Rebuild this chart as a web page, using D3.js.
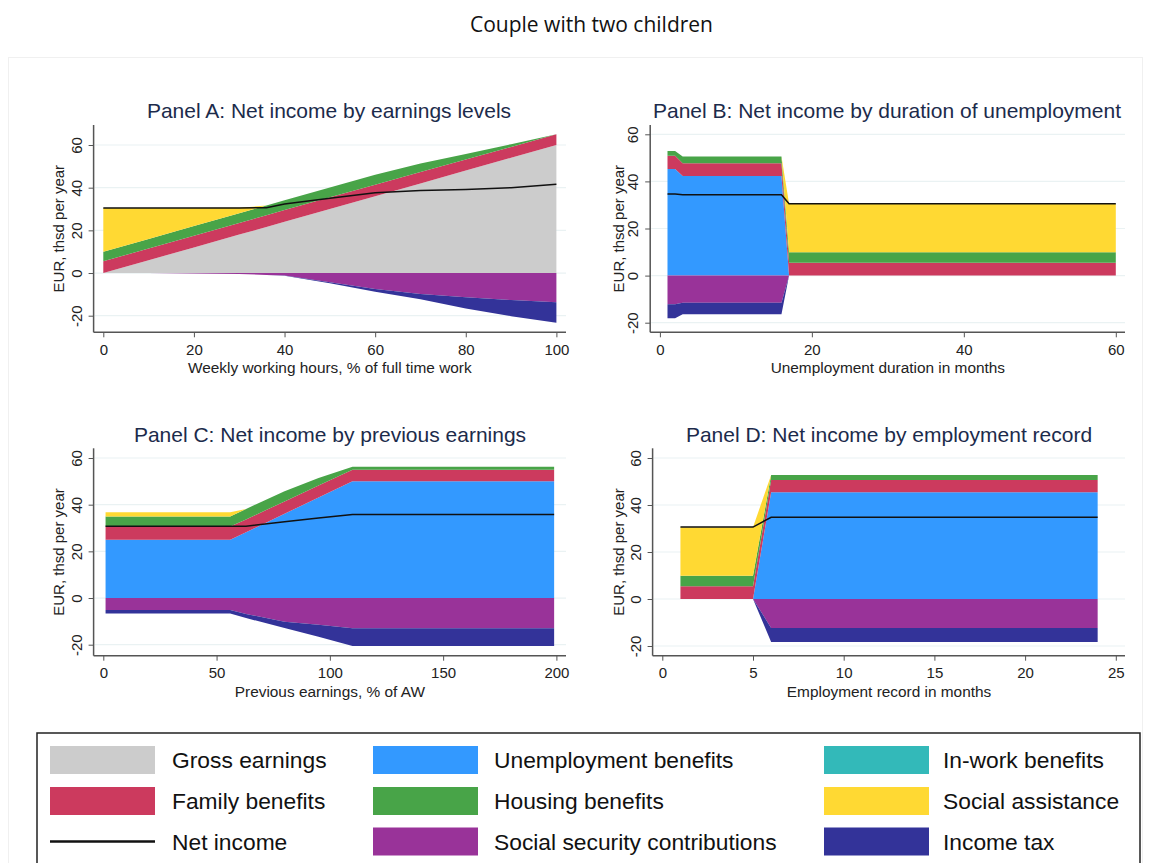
<!DOCTYPE html>
<html>
<head>
<meta charset="utf-8">
<script src="https://cdn.jsdelivr.net/npm/d3@7"></script>
<style>
  body { margin: 0; background: #fff; }
  svg { display: block; }
  text { font-family: "Liberation Sans", Arial, sans-serif; }
</style>
</head>
<body>
<div id="chart"></div>
<script>
// stacking order, bottom to top (negatives go down from zero)
var seriesKeys = ['gross', 'unemp', 'family', 'housing', 'inwork', 'social', 'ssc', 'tax'];
var negativeKeys = ['ssc', 'tax'];
var seriesNames = {
  gross: 'Gross earnings', unemp: 'Unemployment benefits', inwork: 'In-work benefits',
  family: 'Family benefits', housing: 'Housing benefits', social: 'Social assistance',
  ssc: 'Social security contributions', tax: 'Income tax'
};
var seriesColors = {
  gross: '#cccccc', unemp: '#3399ff', inwork: '#33b9b9', family: '#cc3a5e',
  housing: '#48a448', social: '#ffd933', ssc: '#993399', tax: '#333399'
};
var yTicks = [-20, 0, 20, 40, 60];

// Panel A: by weekly working hours
var hoursX       = [0, 10, 20, 30, 36, 40, 50, 60, 70, 80, 90, 100];
var hoursGross   = [0, 6, 12, 18, 21.6, 24, 30, 36, 42, 48, 54, 60];
var hoursFamily  = [5.5, 5.5, 5.5, 5.5, 5.5, 5.5, 5.5, 5.4, 5.3, 5.2, 5.1, 5];
var hoursHousing = [4.5, 4.5, 4.5, 4.5, 4.5, 4.6, 4.6, 4.6, 4, 2.6, 1.3, 0];
var hoursSocial  = [20.5, 14.5, 8.5, 2.6, 0, 0, 0, 0, 0, 0, 0, 0];
var hoursSSC     = [0, 0, -0.2, -0.5, -0.9, -1.2, -4.3, -7.5, -9.8, -11.4, -12.7, -13.75];
var hoursTax     = [0, 0, 0, 0, 0, -0.1, -0.5, -1.25, -2.5, -5.2, -7.5, -9.55];
var hoursNet     = [30.5, 30.5, 30.5, 30.5, 30.6, 32.4, 35, 37.6, 38.7, 39.2, 40, 41.6];
var hoursTicks   = [0, 20, 40, 60, 80, 100];

// Panel B: by months of unemployment
var durX       = [1, 2, 3, 16, 17, 60];
var durUnemp   = [45.3, 45.3, 42.3, 42.3, 0, 0];
var durFamily  = [5.6, 5.6, 5.4, 5.4, 5.5, 5.5];
var durHousing = [2, 2, 2.9, 2.9, 4.4, 4.4];
var durSocial  = [0, 0, 0, 0, 20.6, 20.6];
var durSSC     = [-12.2, -12.2, -11.5, -11.5, 0, 0];
var durTax     = [-5.9, -5.9, -4.9, -4.9, 0, 0];
var durNet     = [34.7, 34.6, 34.3, 34.3, 30.5, 30.5];
var durTicks   = [0, 20, 40, 60];

// Panel C: by previous earnings
var prevX       = [1, 56, 63, 80, 95, 110, 199];
var prevUnemp   = [25, 25, 28.2, 36.1, 43.1, 50, 50];
var prevFamily  = [5.6, 5.6, 5.5, 5.3, 5.1, 5, 5];
var prevHousing = [4.3, 4.3, 4.5, 4.3, 3.2, 1.2, 1.2];
var prevSocial  = [1.9, 1.9, 0, 0, 0, 0, 0];
var prevSSC     = [-5.1, -5.1, -6.8, -10.2, -11.5, -12.9, -12.9];
var prevTax     = [-1.5, -1.5, -1.8, -2.6, -5.1, -7.7, -7.7];
var prevNet     = [30.8, 30.8, 30.8, 32.7, 34.3, 35.8, 35.8];
var prevTicks   = [0, 50, 100, 150, 200];

// Panel D: by employment record
var recX       = [1, 5, 6, 24];
var recUnemp   = [0, 0, 45.4, 45.4];
var recFamily  = [5.4, 5.4, 5.2, 5.2];
var recHousing = [4.5, 4.5, 2.2, 2.2];
var recSocial  = [20.6, 20.6, 0, 0];
var recSSC     = [0, 0, -12.3, -12.3];
var recTax     = [0, 0, -6, -6];
var recNet     = [30.6, 30.6, 34.8, 34.8];
var recTicks   = [0, 5, 10, 15, 20, 25];

var legendRows = [
  ['gross', 'unemp', 'inwork'],
  ['family', 'housing', 'social'],
  ['net', 'ssc', 'tax']
];

var panels = [
  {title: 'Panel A: Net income by earnings levels', xTitle: 'Weekly working hours, % of full time work',
   x: hoursX, net: hoursNet, ticks: hoursTicks, xDomain: [0, 100],
   series: {gross: hoursGross, family: hoursFamily, housing: hoursHousing, social: hoursSocial, ssc: hoursSSC, tax: hoursTax},
   left: 93.6, right: 566, top: 125, bottom: 332.3, xr: [103.3, 556.4], yr: [315.7, 145],
   titleX: 329, titleY: 118, yTitleX: 64, xTitleY: 373},
  {title: 'Panel B: Net income by duration of unemployment', xTitle: 'Unemployment duration in months',
   x: durX, net: durNet, ticks: durTicks, xDomain: [0, 60],
   series: {unemp: durUnemp, family: durFamily, housing: durHousing, social: durSocial, ssc: durSSC, tax: durTax},
   left: 650.2, right: 1125, top: 125, bottom: 332.3, xr: [659.9, 1115.8], yr: [322.7, 134.3],
   titleX: 887, titleY: 118, yTitleX: 624, xTitleY: 373},
  {title: 'Panel C: Net income by previous earnings', xTitle: 'Previous earnings, % of AW',
   x: prevX, net: prevNet, ticks: prevTicks, xDomain: [0, 200],
   series: {unemp: prevUnemp, family: prevFamily, housing: prevHousing, social: prevSocial, ssc: prevSSC, tax: prevTax},
   left: 93.6, right: 566, top: 448.3, bottom: 655.7, xr: [103.3, 556.4], yr: [644.7, 458],
   titleX: 330, titleY: 442, yTitleX: 64, xTitleY: 697},
  {title: 'Panel D: Net income by employment record', xTitle: 'Employment record in months',
   x: recX, net: recNet, ticks: recTicks, xDomain: [0, 25],
   series: {unemp: recUnemp, family: recFamily, housing: recHousing, social: recSocial, ssc: recSSC, tax: recTax},
   left: 652.6, right: 1125, top: 448.3, bottom: 655.7, xr: [662.3, 1115.8], yr: [646, 458],
   titleX: 889, titleY: 442, yTitleX: 624, xTitleY: 697}
];

var svg = d3.select('#chart').append('svg')
  .attr('width', 1151)
  .attr('height', 863);

// faint outer frame of the graph region
svg.append('rect')
  .attr('x', 8.5).attr('y', 57.5).attr('width', 1134).attr('height', 830)
  .attr('fill', 'none').attr('stroke', '#f0f0f0');

svg.append('text')
  .attr('x', 591.5).attr('y', 32)
  .attr('text-anchor', 'middle')
  .style('font-family', '"Open Sans", sans-serif')
  .style('font-size', '21px')
  .style('fill', '#111')
  .text('Couple with two children');

// stack rows by hand so zero-height layers sit on the current top/bottom
function stackRows(p) {
  var layers = {};
  seriesKeys.forEach(function(k) { layers[k] = []; });
  p.x.forEach(function(xv, i) {
    var pos = 0, neg = 0;
    seriesKeys.forEach(function(k) {
      var v = p.series[k] ? p.series[k][i] : 0;
      if (negativeKeys.indexOf(k) >= 0) {
        layers[k].push({x: xv, y0: neg, y1: neg + v});
        neg += v;
      } else {
        layers[k].push({x: xv, y0: pos, y1: pos + v});
        pos += v;
      }
    });
  });
  return layers;
}

panels.forEach(function(p) {
  var x = d3.scaleLinear().domain(p.xDomain).range(p.xr);
  var y = d3.scaleLinear().domain([-20, 60]).range(p.yr);
  var g = svg.append('g');

  // grid
  g.selectAll('.grid').data(yTicks).enter().append('line')
    .attr('x1', p.left + 1).attr('x2', p.right)
    .attr('y1', function(d) { return y(d); })
    .attr('y2', function(d) { return y(d); })
    .style('stroke', '#eaf2f3')
    .style('stroke-width', 1.2);

  var layers = stackRows(p);
  var area = d3.area()
    .x(function(d) { return x(d.x); })
    .y0(function(d) { return y(d.y0); })
    .y1(function(d) { return y(d.y1); });

  seriesKeys.forEach(function(k) {
    if (!p.series[k]) return;
    g.append('path')
      .attr('d', area(layers[k]))
      .style('fill', seriesColors[k]);
  });

  var line = d3.line()
    .x(function(d, i) { return x(p.x[i]); })
    .y(function(d) { return y(d); });
  g.append('path')
    .attr('d', line(p.net))
    .style('fill', 'none')
    .style('stroke', '#111')
    .style('stroke-width', 1.5);

  // x axis
  var xAxis = g.append('g')
    .attr('transform', 'translate(0,' + p.bottom + ')')
    .call(d3.axisBottom(x).tickValues(p.ticks).tickSize(5).tickSizeOuter(0).tickPadding(7)
      .tickFormat(function(d) { return String(d); }));
  xAxis.select('.domain').remove();
  xAxis.selectAll('line').style('stroke', '#555');
  xAxis.selectAll('text').style('font-size', '15px').style('fill', '#222')
    .style('font-family', '"Liberation Sans", Arial, sans-serif');
  g.append('line')
    .attr('x1', p.left).attr('x2', p.right)
    .attr('y1', p.bottom).attr('y2', p.bottom)
    .style('stroke', '#555').style('stroke-width', 1.5);

  // y axis with vertical labels
  var yAxis = g.append('g')
    .attr('transform', 'translate(' + p.left + ',0)')
    .call(d3.axisLeft(y).tickValues(yTicks).tickSize(5).tickSizeOuter(0)
      .tickFormat(function(d) { return String(d); }));
  yAxis.select('.domain').remove();
  yAxis.selectAll('line').style('stroke', '#555');
  yAxis.selectAll('text')
    .attr('x', null).attr('dy', null)
    .attr('text-anchor', 'middle')
    .attr('transform', 'translate(-12,0) rotate(-90)')
    .style('font-size', '15px').style('fill', '#222')
    .style('font-family', '"Liberation Sans", Arial, sans-serif');
  g.append('line')
    .attr('x1', p.left).attr('x2', p.left)
    .attr('y1', p.top).attr('y2', p.bottom)
    .style('stroke', '#555').style('stroke-width', 1.5);

  g.append('text')
    .attr('transform', 'translate(' + p.yTitleX + ',' + ((p.top + p.bottom) / 2) + ') rotate(-90)')
    .attr('text-anchor', 'middle')
    .style('font-size', '15px').style('fill', '#222')
    .text('EUR, thsd per year');

  g.append('text')
    .attr('x', (p.xr[0] + p.xr[1]) / 2).attr('y', p.xTitleY)
    .attr('text-anchor', 'middle')
    .style('font-size', '15.4px').style('fill', '#222')
    .text(p.xTitle);

  g.append('text')
    .attr('x', p.titleX).attr('y', p.titleY)
    .attr('text-anchor', 'middle')
    .style('font-size', '21px').style('fill', '#1c2b4b')
    .text(p.title);
});

// legend
var legend = svg.append('g');
legend.append('rect')
  .attr('x', 37).attr('y', 733).attr('width', 1103).attr('height', 200)
  .style('fill', '#fff').style('stroke', '#222').style('stroke-width', 1.5);

var colX = [50, 373, 824];
var textX = [172, 494, 943];
var rowY = [746, 787, 827.5];

legendRows.forEach(function(row, r) {
  row.forEach(function(k, c) {
    if (k === 'net') {
      legend.append('line')
        .attr('x1', colX[c]).attr('x2', colX[c] + 105)
        .attr('y1', rowY[r] + 14).attr('y2', rowY[r] + 14)
        .style('stroke', '#111').style('stroke-width', 2.5);
    } else {
      legend.append('rect')
        .attr('x', colX[c]).attr('y', rowY[r])
        .attr('width', 105).attr('height', 28)
        .style('fill', seriesColors[k]);
    }
    legend.append('text')
      .attr('x', textX[c]).attr('y', rowY[r] + 22)
      .style('font-size', '22.8px').style('fill', '#111')
      .text(k === 'net' ? 'Net income' : seriesNames[k]);
  });
});
</script>
</body>
</html>
